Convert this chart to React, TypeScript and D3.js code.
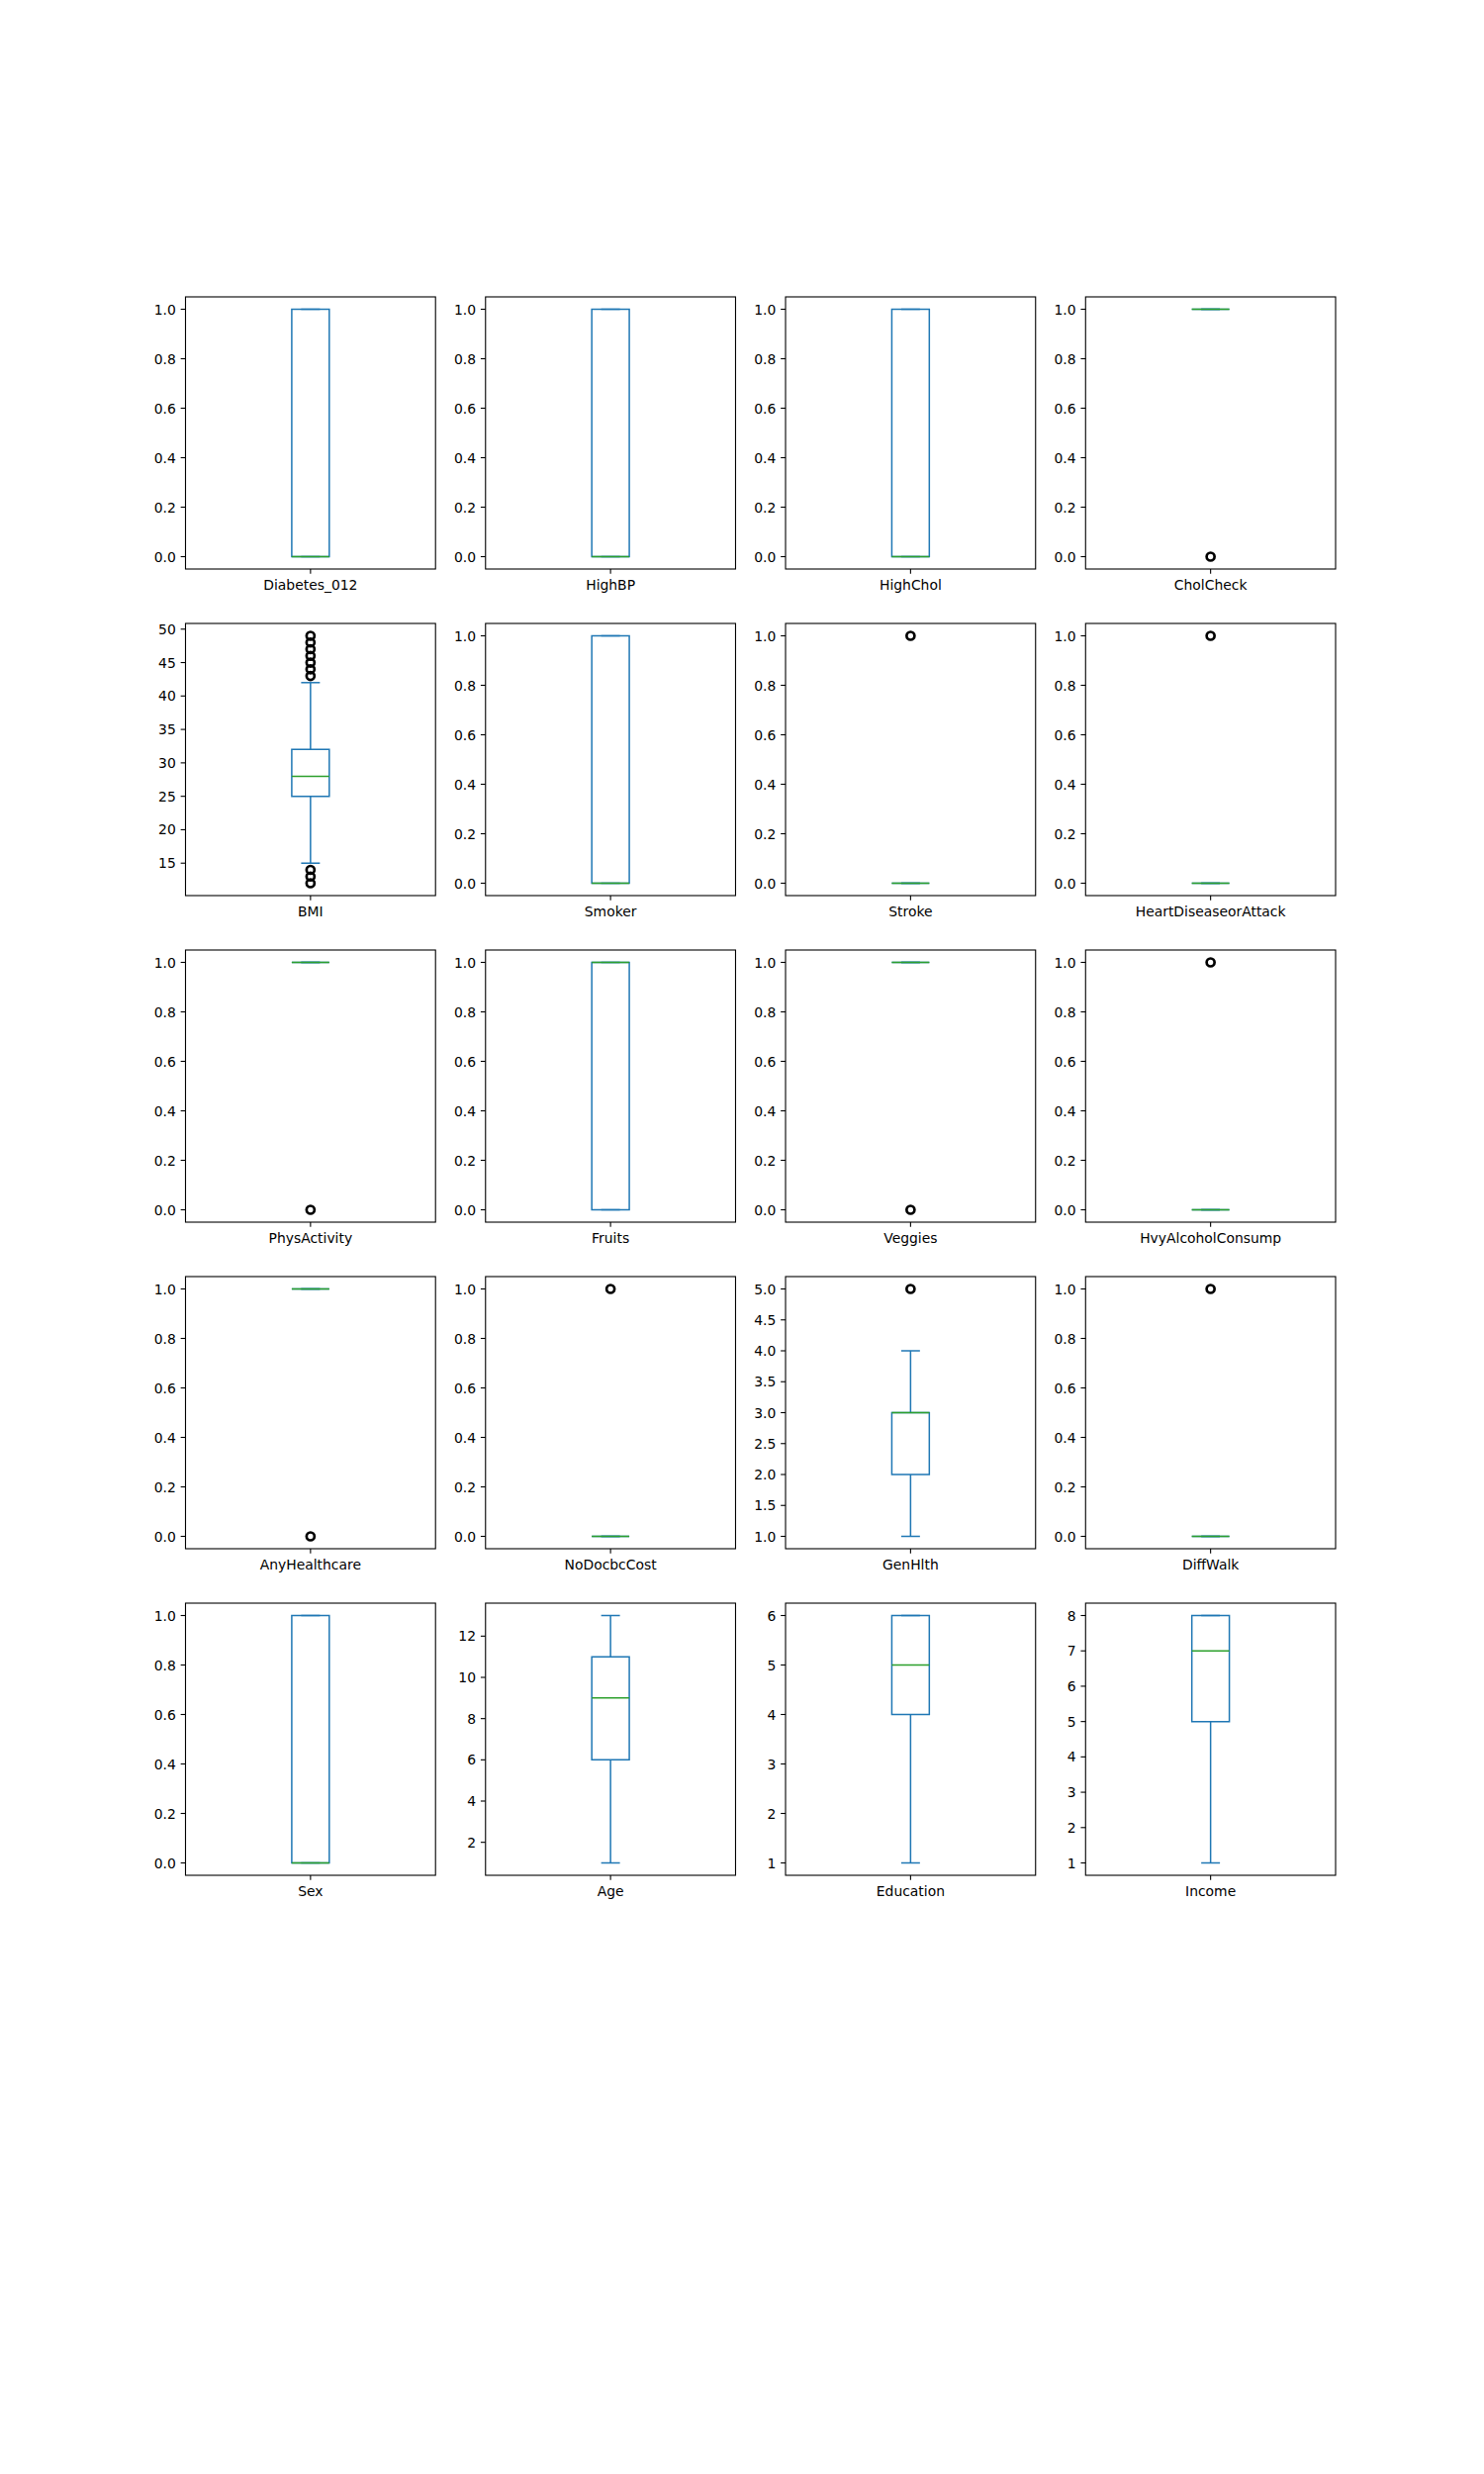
import { useEffect, useRef } from 'react'
import * as d3 from 'd3'

// one box per column, laid out on a 6x4 grid (last row empty)
const COLUMNS = [
  'Diabetes_012', 'HighBP', 'HighChol', 'CholCheck',
  'BMI', 'Smoker', 'Stroke', 'HeartDiseaseorAttack',
  'PhysActivity', 'Fruits', 'Veggies', 'HvyAlcoholConsump',
  'AnyHealthcare', 'NoDocbcCost', 'GenHlth', 'DiffWalk',
  'Sex', 'Age', 'Education', 'Income',
]

const Q1 = [0, 0, 0, 1, 25, 0, 0, 0, 1, 0, 1, 0, 1, 0, 2, 0, 0, 6, 4, 5]
const MEDIAN = [0, 0, 0, 1, 28, 0, 0, 0, 1, 1, 1, 0, 1, 0, 3, 0, 0, 9, 5, 7]
const Q3 = [1, 1, 1, 1, 32, 1, 0, 0, 1, 1, 1, 0, 1, 0, 3, 0, 1, 11, 6, 8]
const WHISKER_LO = [0, 0, 0, 1, 15, 0, 0, 0, 1, 0, 1, 0, 1, 0, 1, 0, 0, 1, 1, 1]
const WHISKER_HI = [1, 1, 1, 1, 42, 1, 0, 0, 1, 1, 1, 0, 1, 0, 4, 0, 1, 13, 6, 8]
const FLIERS: number[][] = [
  [], [], [], [0],
  [12, 13, 14, 43, 44, 45, 46, 47, 48, 49], [], [1], [1],
  [0], [], [0], [1],
  [0], [1], [5], [1],
  [], [], [], [],
]

const BINARY_TICKS = [0, 0.2, 0.4, 0.6, 0.8, 1.0]
const BMI_TICKS = [15, 20, 25, 30, 35, 40, 45, 50]
const GENHLTH_TICKS = [1, 1.5, 2, 2.5, 3, 3.5, 4, 4.5, 5]
const AGE_TICKS = [2, 4, 6, 8, 10, 12]
const EDU_TICKS = [1, 2, 3, 4, 5, 6]
const INCOME_TICKS = [1, 2, 3, 4, 5, 6, 7, 8]

const TICKS: Record<string, number[]> = {
  BMI: BMI_TICKS,
  GenHlth: GENHLTH_TICKS,
  Age: AGE_TICKS,
  Education: EDU_TICKS,
  Income: INCOME_TICKS,
}
const INTEGER_LABELS = ['BMI', 'Age', 'Education', 'Income']

const BLUE = '#1f77b4'
const GREEN = '#2ca02c'

export default function App() {
  const ref = useRef<HTMLDivElement>(null)

  useEffect(() => {
    if (!ref.current) return
    const container = ref.current
    container.innerHTML = ''

    const W = 1500
    const H = 2500
    const nRows = 6
    const nCols = 4
    const space = 0.2
    const areaW = W * (0.9 - 0.125)
    const areaH = H * (0.88 - 0.11)
    const cellW = areaW / (nCols + (nCols - 1) * space)
    const cellH = areaH / (nRows + (nRows - 1) * space)
    const left0 = W * 0.125
    const top0 = H * (1 - 0.88)

    const fontSize = 13.9
    const tickLen = 4.86
    const pad = 4.86

    const svg = d3
      .select(container)
      .append('svg')
      .attr('width', W)
      .attr('height', H)
      .style('font-family', '"DejaVu Sans", sans-serif')
      .style('display', 'block')

    svg.append('rect').attr('width', W).attr('height', H).attr('fill', '#fff')

    COLUMNS.forEach((name, i) => {
      const row = Math.floor(i / nCols)
      const col = i % nCols
      const x0 = left0 + col * cellW * (1 + space)
      const y0 = top0 + row * cellH * (1 + space)

      const values = [WHISKER_LO[i], WHISKER_HI[i], Q1[i], Q3[i], ...FLIERS[i]]
      const lo = d3.min(values) as number
      const hi = d3.max(values) as number
      const m = (hi - lo) * 0.05

      const x = d3.scaleLinear().domain([0.5, 1.5]).range([x0, x0 + cellW])
      const y = d3.scaleLinear().domain([lo - m, hi + m]).range([y0 + cellH, y0])

      const g = svg.append('g')

      // box
      const bx0 = x(1 - 0.075)
      const bx1 = x(1 + 0.075)
      const path = d3.path()
      path.moveTo(bx0, y(Q1[i]))
      path.lineTo(bx1, y(Q1[i]))
      path.lineTo(bx1, y(Q3[i]))
      path.lineTo(bx0, y(Q3[i]))
      path.closePath()
      g.append('path')
        .attr('d', path.toString())
        .attr('fill', 'none')
        .attr('stroke', BLUE)
        .attr('stroke-width', 1.5)

      // whiskers
      ;[
        [Q1[i], WHISKER_LO[i]],
        [Q3[i], WHISKER_HI[i]],
      ].forEach(([a, b]) => {
        g.append('line')
          .attr('x1', x(1)).attr('x2', x(1))
          .attr('y1', y(a)).attr('y2', y(b))
          .attr('stroke', BLUE)
          .attr('stroke-width', 1.5)
      })

      // caps
      ;[WHISKER_LO[i], WHISKER_HI[i]].forEach((v) => {
        g.append('line')
          .attr('x1', x(1 - 0.0375)).attr('x2', x(1 + 0.0375))
          .attr('y1', y(v)).attr('y2', y(v))
          .attr('stroke', BLUE)
          .attr('stroke-width', 1.5)
      })

      // median
      g.append('line')
        .attr('x1', bx0).attr('x2', bx1)
        .attr('y1', y(MEDIAN[i])).attr('y2', y(MEDIAN[i]))
        .attr('stroke', GREEN)
        .attr('stroke-width', 1.5)

      // outliers (heavy overplotting makes them look bold)
      FLIERS[i].forEach((v) => {
        g.append('circle')
          .attr('cx', x(1))
          .attr('cy', y(v))
          .attr('r', 4)
          .attr('fill', 'none')
          .attr('stroke', '#000')
          .attr('stroke-width', 2.7)
      })

      // frame
      g.append('rect')
        .attr('x', x0)
        .attr('y', y0)
        .attr('width', cellW)
        .attr('height', cellH)
        .attr('fill', 'none')
        .attr('stroke', '#000')
        .attr('stroke-width', 1.1)

      // y ticks
      const ticks = TICKS[name] ?? BINARY_TICKS
      const isInt = INTEGER_LABELS.includes(name)
      ticks.forEach((t) => {
        g.append('line')
          .attr('x1', x0 - tickLen).attr('x2', x0)
          .attr('y1', y(t)).attr('y2', y(t))
          .attr('stroke', '#000')
          .attr('stroke-width', 1.1)
        g.append('text')
          .attr('x', x0 - tickLen - pad)
          .attr('y', y(t))
          .attr('dy', '0.36em')
          .attr('text-anchor', 'end')
          .style('font-size', `${fontSize}px`)
          .style('fill', '#000')
          .text(isInt ? d3.format('d')(t) : d3.format('.1f')(t))
      })

      // x tick + category label
      g.append('line')
        .attr('x1', x(1)).attr('x2', x(1))
        .attr('y1', y0 + cellH).attr('y2', y0 + cellH + tickLen)
        .attr('stroke', '#000')
        .attr('stroke-width', 1.1)
      g.append('text')
        .attr('x', x(1))
        .attr('y', y0 + cellH + tickLen + pad + 11)
        .attr('text-anchor', 'middle')
        .style('font-size', `${fontSize}px`)
        .style('fill', '#000')
        .text(name)
    })

    return () => {
      container.innerHTML = ''
    }
  }, [])

  return <div ref={ref} style={{ position: 'absolute', left: 0, top: 0 }} />
}
